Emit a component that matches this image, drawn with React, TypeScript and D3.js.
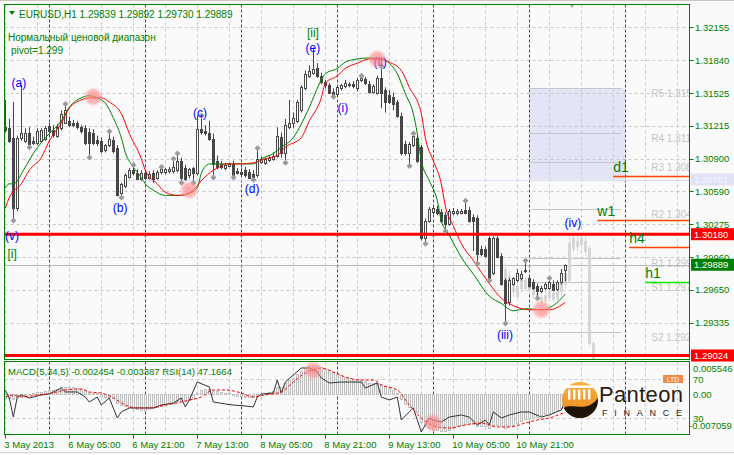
import * as d3 from 'd3'

const FONT = 'Liberation Sans, Arial, sans-serif'
const GREEN = '#008000'

// EURUSD H1 bars from 3 May 13:00, [open, high, low, close]
const candles: number[][] = [
  [1.3120, 1.3146, 1.3115, 1.3117], [1.3119, 1.3128, 1.3105, 1.3107], [1.3110, 1.3144, 1.3031, 1.3043],
  [1.3043, 1.3112, 1.3040, 1.3110], [1.3110, 1.3160, 1.3107, 1.3114], [1.3107, 1.3119, 1.3105, 1.3114],
  [1.3114, 1.3120, 1.3101, 1.3104], [1.3107, 1.3111, 1.3103, 1.3105], [1.3105, 1.3119, 1.3103, 1.3116],
  [1.3107, 1.3119, 1.3105, 1.3117], [1.3109, 1.3121, 1.3107, 1.3119], [1.3121, 1.3124, 1.3113, 1.3116],
  [1.3117, 1.3122, 1.3110, 1.3113], [1.3112, 1.3123, 1.3110, 1.3120], [1.3119, 1.3136, 1.3117, 1.3133],
  [1.3124, 1.3142, 1.3123, 1.3136], [1.3126, 1.3130, 1.3120, 1.3122], [1.3124, 1.3127, 1.3120, 1.3122],
  [1.3124, 1.3126, 1.3118, 1.3120], [1.3120, 1.3122, 1.3114, 1.3116], [1.3119, 1.3122, 1.3103, 1.3105],
  [1.3115, 1.3119, 1.3091, 1.3105], [1.3114, 1.3118, 1.3103, 1.3105], [1.3108, 1.3112, 1.3102, 1.3105],
  [1.3107, 1.3110, 1.3095, 1.3097], [1.3098, 1.3104, 1.3096, 1.3103], [1.3103, 1.3116, 1.3101, 1.3109],
  [1.3108, 1.3111, 1.3095, 1.3097], [1.3100, 1.3103, 1.3054, 1.3055], [1.3057, 1.3067, 1.3053, 1.3066],
  [1.3064, 1.3076, 1.3062, 1.3074], [1.3073, 1.3081, 1.3071, 1.3079], [1.3079, 1.3084, 1.3074, 1.3076],
  [1.3076, 1.3080, 1.3070, 1.3071], [1.3071, 1.3079, 1.3069, 1.3076], [1.3076, 1.3079, 1.3070, 1.3072],
  [1.3072, 1.3078, 1.3070, 1.3075], [1.3076, 1.3079, 1.3067, 1.3071], [1.3072, 1.3079, 1.3070, 1.3077],
  [1.3077, 1.3082, 1.3075, 1.3080], [1.3077, 1.3081, 1.3075, 1.3080], [1.3078, 1.3082, 1.3076, 1.3080],
  [1.3078, 1.3090, 1.3076, 1.3082], [1.3079, 1.3095, 1.3077, 1.3088], [1.3088, 1.3091, 1.3067, 1.3072],
  [1.3081, 1.3084, 1.3069, 1.3071], [1.3074, 1.3081, 1.3071, 1.3080], [1.3081, 1.3082, 1.3067, 1.3076],
  [1.3076, 1.3131, 1.3074, 1.3118], [1.3118, 1.3131, 1.3113, 1.3115], [1.3116, 1.3122, 1.3112, 1.3114],
  [1.3114, 1.3126, 1.3107, 1.3109], [1.3109, 1.3114, 1.3072, 1.3085], [1.3088, 1.3093, 1.3080, 1.3082],
  [1.3085, 1.3088, 1.3080, 1.3082], [1.3081, 1.3086, 1.3079, 1.3084], [1.3083, 1.3086, 1.3082, 1.3085],
  [1.3085, 1.3088, 1.3072, 1.3074], [1.3078, 1.3081, 1.3075, 1.3076], [1.3077, 1.3081, 1.3074, 1.3075],
  [1.3079, 1.3082, 1.3072, 1.3074], [1.3077, 1.3080, 1.3071, 1.3072], [1.3075, 1.3079, 1.3070, 1.3072],
  [1.3074, 1.3100, 1.3072, 1.3090], [1.3087, 1.3092, 1.3085, 1.3090], [1.3086, 1.3091, 1.3084, 1.3090],
  [1.3089, 1.3093, 1.3087, 1.3091], [1.3090, 1.3096, 1.3088, 1.3093], [1.3093, 1.3120, 1.3091, 1.3112],
  [1.3111, 1.3115, 1.3091, 1.3095], [1.3095, 1.3128, 1.3086, 1.3122], [1.3120, 1.3146, 1.3118, 1.3124],
  [1.3124, 1.3134, 1.3119, 1.3129], [1.3126, 1.3146, 1.3124, 1.3144], [1.3136, 1.3160, 1.3134, 1.3158],
  [1.3157, 1.3174, 1.3155, 1.3171], [1.3169, 1.3179, 1.3167, 1.3174], [1.3172, 1.3196, 1.3170, 1.3175],
  [1.3176, 1.3181, 1.3167, 1.3169], [1.3169, 1.3172, 1.3161, 1.3163], [1.3163, 1.3165, 1.3157, 1.3160],
  [1.3160, 1.3162, 1.3152, 1.3153], [1.3154, 1.3157, 1.3149, 1.3151], [1.3152, 1.3160, 1.3150, 1.3158],
  [1.3157, 1.3161, 1.3155, 1.3160], [1.3159, 1.3165, 1.3157, 1.3162], [1.3160, 1.3163, 1.3158, 1.3161],
  [1.3161, 1.3164, 1.3157, 1.3159], [1.3157, 1.3167, 1.3154, 1.3165], [1.3165, 1.3169, 1.3163, 1.3167],
  [1.3166, 1.3168, 1.3160, 1.3162], [1.3161, 1.3164, 1.3152, 1.3154], [1.3154, 1.3161, 1.3152, 1.3159],
  [1.3153, 1.3169, 1.3151, 1.3167], [1.3167, 1.3178, 1.3138, 1.3153], [1.3155, 1.3158, 1.3134, 1.3144],
  [1.3151, 1.3155, 1.3142, 1.3144], [1.3149, 1.3153, 1.3136, 1.3142], [1.3144, 1.3146, 1.3129, 1.3131],
  [1.3131, 1.3134, 1.3093, 1.3095], [1.3104, 1.3107, 1.3093, 1.3095], [1.3095, 1.3106, 1.3083, 1.3104],
  [1.3103, 1.3114, 1.3101, 1.3112], [1.3110, 1.3113, 1.3086, 1.3088], [1.3101, 1.3103, 1.3012, 1.3014],
  [1.3014, 1.3033, 1.3009, 1.3031], [1.3031, 1.3044, 1.3029, 1.3042], [1.3039, 1.3045, 1.3037, 1.3043],
  [1.3042, 1.3045, 1.3036, 1.3038], [1.3039, 1.3042, 1.3029, 1.3031], [1.3036, 1.3039, 1.3021, 1.3028],
  [1.3028, 1.3042, 1.3026, 1.3040], [1.3038, 1.3043, 1.3036, 1.3040], [1.3038, 1.3042, 1.3036, 1.3040],
  [1.3038, 1.3042, 1.3037, 1.3040], [1.3041, 1.3050, 1.3037, 1.3038], [1.3041, 1.3044, 1.3029, 1.3031],
  [1.3034, 1.3037, 1.3002, 1.3031], [1.3033, 1.3036, 1.2990, 1.2999], [1.3004, 1.3007, 1.2997, 1.2999],
  [1.3004, 1.3006, 1.2996, 1.2997], [1.3014, 1.3016, 1.2974, 1.2976], [1.2981, 1.3016, 1.2979, 1.3014],
  [1.3014, 1.3016, 1.2995, 1.2996], [1.2997, 1.3000, 1.2969, 1.2971], [1.2974, 1.2976, 1.2933, 1.2952],
  [1.2953, 1.2976, 1.2950, 1.2974], [1.2971, 1.2977, 1.2969, 1.2976], [1.2974, 1.2985, 1.2972, 1.2981],
  [1.2976, 1.2983, 1.2974, 1.2980], [1.2984, 1.2993, 1.2981, 1.2983], [1.2976, 1.2978, 1.2967, 1.2969],
  [1.2972, 1.2975, 1.2965, 1.2967], [1.2969, 1.2971, 1.2957, 1.2964], [1.2964, 1.2969, 1.2962, 1.2967],
  [1.2967, 1.2972, 1.2965, 1.2971], [1.2967, 1.2976, 1.2965, 1.2972], [1.2971, 1.2974, 1.2964, 1.2965],
  [1.2966, 1.2974, 1.2964, 1.2972], [1.2972, 1.2985, 1.2970, 1.2981], [1.29839, 1.29892, 1.29730, 1.29889],
]

// light grey projection bars, [bar, open, high, low, close]
const ghostCandles: number[][] = [
  [124, 1.2991, 1.2995, 1.2969, 1.2983], [125, 1.2985, 1.2991, 1.2969, 1.2974], [126, 1.2978, 1.2983, 1.2964, 1.2967],
  [127, 1.2971, 1.2976, 1.2958, 1.2964], [128, 1.2969, 1.2974, 1.2955, 1.2959], [129, 1.2967, 1.2978, 1.2962, 1.2975],
  [130, 1.2974, 1.2977, 1.2964, 1.2967], [131, 1.2971, 1.2974, 1.2961, 1.2966], [132, 1.2966, 1.2969, 1.2956, 1.2961],
  [133, 1.2962, 1.2966, 1.2951, 1.2956], [134, 1.2958, 1.2962, 1.2949, 1.2953], [135, 1.2955, 1.2964, 1.2950, 1.2960],
  [136, 1.2958, 1.2968, 1.2955, 1.2964], [137, 1.2962, 1.2966, 1.2953, 1.2956], [138, 1.2957, 1.2969, 1.2955, 1.2964],
  [139, 1.2964, 1.2976, 1.2959, 1.2972], [140, 1.2971, 1.2985, 1.2966, 1.2981], [141, 1.2974, 1.3017, 1.2972, 1.3010],
  [142, 1.3005, 1.3019, 1.3001, 1.3014], [143, 1.3012, 1.3019, 1.3002, 1.3007], [144, 1.3009, 1.3019, 1.3004, 1.3015],
  [145, 1.3012, 1.3016, 1.2997, 1.3002], [146, 1.3005, 1.3007, 1.2912, 1.2914], [147, 1.2914, 1.2916, 1.2895, 1.2899],
]

// moving averages, [bar, price]
const fastMA: number[][] = [
  [0, 1.3062], [1, 1.3066], [2, 1.3066], [5, 1.3082], [7, 1.3095], [11, 1.3114], [14, 1.3126], [16, 1.3139],
  [19, 1.3148], [21, 1.3150], [23, 1.3148], [25, 1.3143], [27, 1.3129], [29, 1.3110], [30, 1.3096], [32, 1.3082],
  [34, 1.3072], [35, 1.3066], [37, 1.3060], [40, 1.3055], [44, 1.3055], [46, 1.3057], [48, 1.3062], [49, 1.3076],
  [51, 1.3085], [54, 1.3085], [57, 1.3085], [62, 1.3085], [64, 1.3090], [67, 1.3095], [69, 1.3101], [72, 1.3110],
  [74, 1.3123], [76, 1.3139], [79, 1.3165], [80, 1.3171], [83, 1.3176], [85, 1.3182], [88, 1.3185], [91, 1.3186],
  [94, 1.3185], [96, 1.3181], [98, 1.3171], [100, 1.3152], [102, 1.3133], [103, 1.3114], [104, 1.3088], [106, 1.3069],
  [108, 1.3050], [109, 1.3031], [111, 1.3017], [114, 1.2996], [117, 1.2980], [121, 1.2959], [124, 1.2952], [127, 1.2945],
  [130, 1.2947], [134, 1.2946], [137, 1.2950], [140, 1.2961],
]
const slowMA: number[][] = [
  [0, 1.3043], [1, 1.3053], [4, 1.3066], [6, 1.3079], [9, 1.3091], [11, 1.3107], [14, 1.3124], [16, 1.3138],
  [19, 1.3146], [21, 1.3148], [24, 1.3148], [26, 1.3144], [29, 1.3133], [31, 1.3114], [34, 1.3090], [35, 1.3079],
  [38, 1.3066], [40, 1.3058], [43, 1.3055], [45, 1.3056], [47, 1.3060], [49, 1.3069], [52, 1.3079], [54, 1.3083],
  [55, 1.3085], [59, 1.3085], [62, 1.3086], [65, 1.3090], [68, 1.3093], [70, 1.3101], [74, 1.3110], [76, 1.3126],
  [79, 1.3148], [80, 1.3162], [83, 1.3169], [85, 1.3176], [88, 1.3181], [91, 1.3185], [94, 1.3185], [96, 1.3182],
  [99, 1.3174], [101, 1.3158], [104, 1.3133], [105, 1.3110], [107, 1.3088], [109, 1.3066], [110, 1.3045], [112, 1.3026],
  [114, 1.3009], [117, 1.2993], [121, 1.2971], [124, 1.2957], [127, 1.2950], [131, 1.2946], [136, 1.2946], [140, 1.2953],
]

const fractalsUp = [15, 26, 32, 39, 42, 43, 49, 63, 89, 94, 102, 115, 130, 136]
const fractalsDown = [2, 6, 21, 29, 44, 47, 52, 57, 62, 70, 82, 101, 105, 110, 118, 121, 125, 133]

const priceTicks = [1.32155, 1.3184, 1.31525, 1.31215, 1.309, 1.3059, 1.30275, 1.2996, 1.2965, 1.29335]
const timeTicks: [number, string][] = [
  [0, '3 May 2013'], [16, '6 May 05:00'], [32, '6 May 21:00'], [48, '7 May 13:00'], [64, '8 May 05:00'],
  [80, '8 May 21:00'], [96, '9 May 13:00'], [112, '10 May 05:00'], [128, '10 May 21:00'],
]
const daySeparators = [11, 35, 59, 83, 107, 131, 155]

// wave marks: text, bar, price, colour
const waveLabels: [string, number, number, string][] = [
  ['(a)', 3.4, 1.3162, '#0000ff'], ['(b)', 28.7, 1.3043, '#0000ff'], ['(c)', 48.7, 1.3134, '#0000ff'],
  ['(d)', 61.7, 1.3061, '#0000ff'], ['(e)', 76.9, 1.3196, '#0000ff'], ['[ii]', 76.9, 1.3210, GREEN],
  ['(i)', 84.4, 1.3139, '#0000ff'], ['(ii)', 93.7, 1.3182, '#0000ff'], ['(iii)', 124.9, 1.2922, '#0000ff'],
  ['(iv)', 141.9, 1.3029, '#0000ff'], ['(v)', 1.7, 1.3017, '#0000ff'], ['[i]', 1.7, 1.2999, GREEN],
]
const pivots: [string, number][] = [
  ['R5 1.3157', 1.3157], ['R4 1.3114', 1.3114], ['R3 1.3087', 1.3087], ['R2 1.3042', 1.3042],
  ['R1 1.2995', 1.2995], ['S1 1.2972', 1.2972], ['S2 1.2925', 1.2925],
]
// timeframe levels: name, price, first bar, colour
const tfLevels: [string, number, number, string][] = [
  ['d1', 1.30735, 152, '#ff4500'], ['w1', 1.3032, 148, '#ff4500'], ['h4', 1.3006, 156, '#ff4500'], ['h1', 1.2972, 160, '#00ee00'],
]
const supportLines = [1.3018, 1.29024]
const priceBoxes: [number, string, string][] = [
  [1.30701, '#e2e2f6', '#f6f6ff'], [1.3018, '#ff0000', '#ffffff'], [1.29889, '#008000', '#ffffff'], [1.29024, '#ff0000', '#ffffff'],
]
const highlights: [number, number][] = [[22, 1.3149], [46, 1.3060], [93, 1.3185], [134, 1.2946]]
const rsiHighlights: [number, number][] = [[77, 79], [107, 25]]

const macdHist = [
  -0.0008, -0.0007, -0.0009, -0.0006, -0.0004, -0.0002, 0.0, 0.0002, 0.0003, 0.0004,
  0.0006, 0.0007, 0.0008, 0.001, 0.0012, 0.0013, 0.0012, 0.0012, 0.0011, 0.001,
  0.0007, 0.0004, 0.0002, 0.0001, -0.0003, -0.0005, -0.0006, -0.0008, -0.0016, -0.002,
  -0.0022, -0.0025, -0.0027, -0.0028, -0.0029, -0.0029, -0.0028, -0.0027, -0.0025, -0.0023,
  -0.0021, -0.0019, -0.0016, -0.0014, -0.0014, -0.0013, -0.0011, -0.0009, 0.0002, 0.0008,
  0.001, 0.001, 0.0006, 0.0005, 0.0004, 0.0002, 0.0001, -0.0002, -0.0003, -0.0004,
  -0.0005, -0.0005, -0.0005, -0.0002, 0.0, 0.0002, 0.0004, 0.0006, 0.0012, 0.0013,
  0.002, 0.0025, 0.003, 0.0037, 0.0043, 0.0048, 0.0052, 0.0054, 0.0053, 0.005,
  0.0047, 0.0044, 0.0041, 0.0038, 0.0035, 0.0032, 0.003, 0.0028, 0.0027, 0.0026,
  0.0024, 0.0021, 0.002, 0.002, 0.0019, 0.0015, 0.0011, 0.0007, 0.0002, -0.001,
  -0.0018, -0.0024, -0.0027, -0.0033, -0.0052, -0.006, -0.0064, -0.0066, -0.0067, -0.0068,
  -0.0068, -0.0066, -0.0063, -0.006, -0.0057, -0.0055, -0.0054, -0.0055, -0.0059, -0.006,
  -0.006, -0.0063, -0.0058, -0.0057, -0.0059, -0.0063, -0.006, -0.0057, -0.0053, -0.005,
  -0.0046, -0.0045, -0.0044, -0.0043, -0.004, -0.0037, -0.0035, -0.0033, -0.003, -0.0027, -0.002454,
]
const macdSignal: number[][] = [
  [0, -0.00057], [2, -0.0002], [4, -0.00057], [8, -0.0002], [12, 0.00017], [15, 0.00073], [19, 0.00091],
  [21, 0.00036], [24, 0.00017], [27, -0.00076], [30, -0.00205], [33, -0.00261], [36, -0.00261], [40, -0.00205],
  [44, -0.0015], [46, -0.00113], [49, -0.00057], [52, 0.00073], [55, 0.00073], [59, 0.00017], [62, -0.00057],
  [65, -0.0002], [69, 0.00036], [72, 0.00221], [75, 0.00388], [79, 0.0048], [82, 0.00406], [85, 0.00314],
  [89, 0.00258], [92, 0.00258], [94, 0.00165], [98, 0.00073], [101, -0.00205], [104, -0.00446], [108, -0.00613],
  [111, -0.00632], [115, -0.00576], [119, -0.00539], [123, -0.00613], [126, -0.00613], [130, -0.00539],
  [133, -0.00484], [136, -0.00446], [140, -0.003387],
]
const rsi: number[][] = [
  [0, 58.7], [1, 50.5], [2, 31.0], [3, 51.5], [4, 53.6], [6, 50.5], [9, 53.6], [11, 54.6], [14, 60.8], [15, 56.7],
  [18, 56.7], [20, 51.5], [21, 46.4], [23, 51.5], [24, 43.3], [26, 50.5], [28, 30.0], [29, 36.2], [31, 40.3],
  [34, 40.3], [37, 40.3], [39, 43.3], [42, 45.4], [44, 50.5], [45, 41.3], [46, 48.5], [48, 66.9], [51, 61.8],
  [52, 46.4], [55, 44.4], [57, 43.3], [60, 42.3], [62, 41.3], [63, 51.5], [64, 54.6], [67, 55.6], [68, 69.0],
  [69, 55.6], [70, 66.9], [72, 74.1], [74, 81.3], [76, 81.3], [78, 77.2], [79, 71.0], [81, 65.9], [84, 66.9],
  [86, 66.9], [89, 66.9], [90, 60.8], [93, 65.9], [94, 51.5], [96, 48.5], [98, 51.5], [99, 28.0], [101, 36.2],
  [102, 40.3], [104, 15.6], [106, 30.0], [107, 27.9], [109, 25.9], [111, 31.0], [114, 33.1], [116, 31.0],
  [118, 22.8], [120, 27.9], [121, 22.8], [122, 36.2], [124, 30.0], [126, 33.1], [129, 36.2], [131, 36.2],
  [134, 31.0], [136, 33.1], [139, 38.2], [140, 47.17],
]

const L = 4.5, R = 689.5, TOP = 4.5, MAIN_B = 359.5, SUB_T = 361.5, SUB_B = 434.5

export default function App() {
  const x = d3.scaleLinear().domain([0, 170]).range([5.3, 685.3])
  const y = d3.scaleLinear().domain([1.29024, 1.32155]).range([355.5, 27])
  const yM = d3.scaleLinear().domain([-0.007059, 0.005546]).range([432, 364])
  const yR = d3.scaleLinear().domain([30, 70]).range([418, 379])
  const px = (i: number) => Math.floor(x(i)) + 0.5

  const maLine = d3.line<number[]>().x(d => x(d[0])).y(d => y(d[1])).curve(d3.curveMonotoneX)
  const sigLine = d3.line<number[]>().x(d => x(d[0])).y(d => yM(d[1])).curve(d3.curveMonotoneX)
  const rsiLine = d3.line<number[]>().x(d => x(d[0])).y(d => yR(d[1]))

  const gridX = d3.range(0, 171, 8)
  const dark = '#474747'

  const candle = (i: number, o: number, h: number, l: number, c: number, ghost: boolean) => {
    const cx = px(i)
    const top = Math.round(y(Math.max(o, c))) + 0.5
    const bot = Math.round(y(Math.min(o, c))) + 0.5
    const bear = c < o
    const col = ghost ? '#d6d6d6' : dark
    return (
      <g key={(ghost ? 'g' : 'c') + i}>
        <line x1={cx} x2={cx} y1={y(h)} y2={y(l)} stroke={col} />
        <rect x={cx - 1} y={top} width={2} height={Math.max(bot - top, 0.5)}
          fill={ghost ? '#d6d6d6' : bear ? dark : '#ffffff'} stroke={col} />
      </g>
    )
  }

  const diamond = (cx: number, cy: number) => `M${cx},${cy - 3}L${cx + 3},${cy}L${cx},${cy + 3}L${cx - 3},${cy}Z`

  return (
    <svg width={734} height={455} style={{ position: 'absolute', left: 0, top: 0, fontFamily: FONT }}>
      <defs>
        <clipPath id="mainClip"><rect x={5} y={5} width={684} height={354} /></clipPath>
        <clipPath id="subClip"><rect x={5} y={362} width={684} height={72} /></clipPath>
        <radialGradient id="hl">
          <stop offset="0" stopColor="#ff8080" stopOpacity={0.75} />
          <stop offset="0.65" stopColor="#ff9090" stopOpacity={0.6} />
          <stop offset="1" stopColor="#ffb0b0" stopOpacity={0} />
        </radialGradient>
        <linearGradient id="logoOr" x1="0" y1="0" x2="0" y2="1">
          <stop offset="0" stopColor="#f9b640" />
          <stop offset="1" stopColor="#e9801c" />
        </linearGradient>
        <clipPath id="logoClip"><circle cx={580} cy={400} r={18} /></clipPath>
      </defs>

      <rect width={734} height={455} fill="#fafafa" />
      <line x1={0} x2={734} y1={0.5} y2={0.5} stroke="#c8c8c8" />
      <line x1={0} x2={734} y1={452.5} y2={452.5} stroke="#d4d4d4" />

      {/* main price window */}
      <g clipPath="url(#mainClip)">
        <rect x={x(131)} y={y(1.3157)} width={x(155) - x(131)} height={y(1.30701) - y(1.3157)} fill="#e4e4f7" />
        {priceTicks.map(p => (
          <line key={'hg' + p} x1={L} x2={R} y1={Math.round(y(p)) + 0.5} y2={Math.round(y(p)) + 0.5}
            stroke="#c8c8c8" strokeDasharray="3,3" />
        ))}
        {gridX.map(i => (
          <line key={'vg' + i} x1={px(i)} x2={px(i)} y1={TOP} y2={MAIN_B} stroke="#c8c8c8" strokeDasharray="3,3" />
        ))}
        {daySeparators.map(i => (
          <line key={'ds' + i} x1={px(i)} x2={px(i)} y1={TOP} y2={MAIN_B} stroke={GREEN} strokeDasharray="3,2" />
        ))}
        {pivots.map(([t, p]) => (
          <g key={t}>
            <line x1={x(131)} x2={x(154)} y1={Math.round(y(p)) + 0.5} y2={Math.round(y(p)) + 0.5} stroke="#c6c6c6" />
            <text x={x(161.5)} y={y(p) + 9} fontSize={10} fill="#c4c4c4">{t}</text>
          </g>
        ))}
        <line x1={L} x2={R} y1={Math.round(y(1.30701)) + 0.5} y2={Math.round(y(1.30701)) + 0.5} stroke="#dcdcf4" />
        <line x1={L} x2={R} y1={Math.round(y(1.29889)) + 0.5} y2={Math.round(y(1.29889)) + 0.5} stroke="#b8b8b8" />

        {ghostCandles.map(d => candle(d[0], d[1], d[2], d[3], d[4], true))}
        {candles.map((d, i) => candle(i, d[0], d[1], d[2], d[3], false))}

        <path d={maLine(fastMA) || ''} fill="none" stroke={GREEN} strokeWidth={1} />
        <path d={maLine(slowMA) || ''} fill="none" stroke="#ff0000" strokeWidth={1} />

        {supportLines.map(p => (
          <line key={'sl' + p} x1={L} x2={R} y1={y(p)} y2={y(p)} stroke="#ff0000" strokeWidth={3} />
        ))}

        {fractalsUp.map(i => <path key={'fu' + i} d={diamond(px(i), y(candles[i][1]))} fill="#9a9a9a" />)}
        {fractalsDown.map(i => <path key={'fd' + i} d={diamond(px(i), y(candles[i][2]))} fill="#9a9a9a" />)}

        {tfLevels.map(([t, p, i, c]) => (
          <g key={t}>
            <line x1={x(i)} x2={R} y1={Math.round(y(p)) + 0.5} y2={Math.round(y(p)) + 0.5} stroke={c} strokeWidth={1.3} />
            <text x={x(i)} y={y(p) - 4} fontSize={14} fill={GREEN}>{t}</text>
          </g>
        ))}

        {waveLabels.map(([t, i, p, c]) => (
          <text key={t + i} x={x(i)} y={y(p)} dy="0.36em" textAnchor="middle" fontSize={12} fill={c}>{t}</text>
        ))}
        {highlights.map(([i, p]) => <circle key={'h' + i} cx={x(i)} cy={y(p)} r={10} fill="url(#hl)" />)}
      </g>

      {/* header texts */}
      <path d="M9,11L15,11L12,15Z" fill={GREEN} />
      <text x={19} y={17.5} fontSize={10} fill={GREEN}>EURUSD,H1  1.29839 1.29892 1.29730 1.29889</text>
      <text x={8} y={41} fontSize={10} fill={GREEN}>Нормальный ценовой диапазон</text>
      <text x={11} y={54} fontSize={10} fill={GREEN}>pivot=1.299</text>
      <path d="M569,4L575,4L572,8Z" fill="#ababab" />

      <rect x={L} y={TOP} width={R - L} height={MAIN_B - TOP} fill="none" stroke={GREEN} />

      {/* price axis */}
      {priceTicks.map(p => (
        <g key={'pt' + p}>
          <line x1={R} x2={R + 4} y1={Math.round(y(p)) + 0.5} y2={Math.round(y(p)) + 0.5} stroke={GREEN} />
          <text x={695} y={y(p) + 3.5} fontSize={9.5} fill={GREEN}>{d3.format('.5f')(p)}</text>
        </g>
      ))}
      {priceBoxes.map(([p, bg, fg]) => (
        <g key={'pb' + p}>
          <rect x={691} y={y(p) - 6} width={43} height={12} fill={bg} />
          <text x={694} y={y(p) + 3.5} fontSize={9.5} fill={fg}>{d3.format('.5f')(p)}</text>
        </g>
      ))}

      {/* MACD / RSI window */}
      <g clipPath="url(#subClip)">
        {[70, 30].map(v => (
          <line key={'rl' + v} x1={L} x2={R} y1={Math.round(yR(v)) + 0.5} y2={Math.round(yR(v)) + 0.5}
            stroke="#c8c8c8" strokeDasharray="3,3" />
        ))}
        {gridX.map(i => (
          <line key={'svg' + i} x1={px(i)} x2={px(i)} y1={SUB_T} y2={SUB_B} stroke="#c8c8c8" strokeDasharray="3,3" />
        ))}
        {daySeparators.map(i => (
          <line key={'sds' + i} x1={px(i)} x2={px(i)} y1={SUB_T} y2={SUB_B} stroke={GREEN} strokeDasharray="3,2" />
        ))}
        {macdHist.map((v, i) => {
          const y0 = Math.round(yM(0)) + 0.5
          const y1 = Math.round(yM(v)) + 0.5
          return (
            <rect key={'mh' + i} x={px(i) - 1} y={Math.min(y0, y1)} width={2} height={Math.max(Math.abs(y1 - y0), 0.5)}
              fill="#f6f6f6" stroke="#c0c0c0" />
          )
        })}
        <path d={rsiLine(rsi) || ''} fill="none" stroke="#333333" strokeWidth={1} />
        <path d={sigLine(macdSignal) || ''} fill="none" stroke="#ff0000" strokeWidth={1} strokeDasharray="3,2" />
        {rsiHighlights.map(([i, v]) => <circle key={'rh' + i} cx={x(i)} cy={yR(v)} r={10} fill="url(#hl)" />)}
      </g>
      <text x={8} y={375} fontSize={9.5} fill={GREEN}>MACD(5,34,5) -0.002454 -0.003387  RSI(14) 47.1664</text>
      <rect x={L} y={SUB_T} width={R - L} height={SUB_B - SUB_T} fill="none" stroke={GREEN} />

      {/* Panteon Finance logo */}
      <g>
        <g clipPath="url(#logoClip)">
          <rect x={560} y={380} width={42} height={42} fill="url(#logoOr)" />
          <path d="M560,411 C570,398 586,418 600,395 L600,425 L560,425 Z" fill="#1e140a" />
        </g>
        <rect x={566} y={385.5} width={27} height={2.5} fill="#ffffff" />
        {[0, 1, 2, 3, 4].map(k => (
          <rect key={'col' + k} x={568 + k * 5} y={389.5} width={2.4} height={10} fill="#ffffff" />
        ))}
        <text x={599} y={402} fontSize={22} fill="#2a1d10" textLength={84}>Panteon</text>
        <text x={602} y={416} fontSize={9} fill="#2a1d10" textLength={80} lengthAdjust="spacing">FINANCE</text>
        <rect x={663} y={375} width={20} height={8} fill="#f08a44" />
        <text x={673} y={381.5} fontSize={7} fill="#ffffff" textAnchor="middle">LTD</text>
      </g>

      <text x={693} y={372} fontSize={9.5} fill={GREEN}>0.005546</text>
      <text x={693} y={yR(70) + 3.5} fontSize={9.5} fill={GREEN}>70</text>
      <text x={693} y={yM(0) + 4.5} fontSize={9.5} fill={GREEN}>0.00</text>
      <text x={693} y={yR(30) + 3.5} fontSize={9.5} fill={GREEN}>30</text>
      <text x={689} y={429} fontSize={9.5} fill={GREEN}>-0.007059</text>

      {/* time axis */}
      {timeTicks.map(([i, t]) => (
        <g key={'tt' + i}>
          <line x1={px(i)} x2={px(i)} y1={SUB_B} y2={SUB_B + 4} stroke={GREEN} />
          <text x={x(i) - 1} y={448} fontSize={9.5} fill={GREEN}>{t}</text>
        </g>
      ))}
    </svg>
  )
}
